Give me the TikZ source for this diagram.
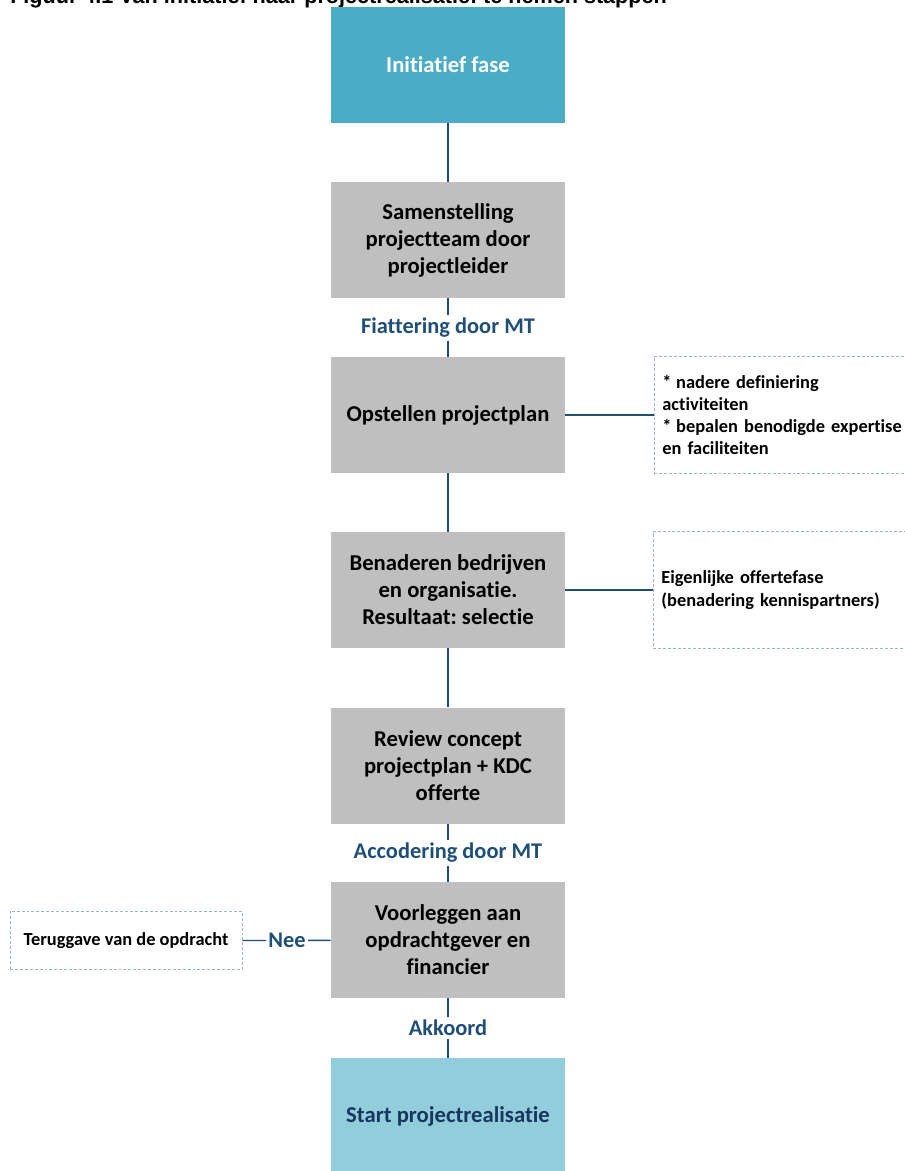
\documentclass[tikz,border=0pt]{standalone}
\usepackage{fontspec}
\setmainfont[Ligatures=NoCommon]{Carlito}
\newfontfamily\arialfont{Liberation Sans}
\usetikzlibrary{positioning}
\frenchspacing
\definecolor{teal1}{HTML}{4BACC6}
\definecolor{teal2}{HTML}{92CDDC}
\definecolor{boxgray}{HTML}{BFBFBF}
\definecolor{navy}{HTML}{1F4E79}
\definecolor{darknavy}{HTML}{17375E}
\definecolor{dashblue}{HTML}{9DB3C8}
\tikzset{
  stepbox/.style={fill=boxgray, draw=none, minimum width=175.5pt, minimum height=87pt,
    align=center, font=\bfseries\fontsize{17}{20.25}\selectfont, text=black},
  phasebox/.style={stepbox, fill=teal1, text=white},
  endbox/.style={stepbox, fill=teal2, text=darknavy},
  condlabel/.style={font=\bfseries\fontsize{16.8}{20.25}\selectfont, text=navy, inner xsep=1.5pt, inner ysep=2pt},
  notebox/.style={draw=dashblue, dash pattern=on 2.2pt off 1.5pt, line width=0.6pt, align=left,
    font=\bfseries\fontsize{13.8}{16.7}\selectfont, text=black, inner xsep=6pt},
  conn/.style={draw=navy, line width=1.1pt}
}
\begin{document}
\begin{tikzpicture}[x=0.75pt, y=-0.75pt]
\useasboundingbox (0,0) rectangle (904,1171);
% title (cut off at top in reference)
\node[anchor=base west, inner sep=0, font=\arialfont\bfseries\fontsize{16.2}{18}\selectfont] (title) at (10,3) {Figuur 4.1 Van initiatief naar projectrealisatie: te nemen stappen};
% main steps
\node[phasebox] (b1) at (448,65) {Initiatief fase};
\node[stepbox] (b2) at (448,240) {Samenstelling\\projectteam door\\projectleider};
\node[stepbox] (b3) at (448,415) {Opstellen projectplan};
\node[stepbox] (b4) at (448,590) {Benaderen bedrijven\\en organisatie.\\Resultaat: selectie};
\node[stepbox] (b5) at (448,765.5) {Review concept\\projectplan + KDC\\offerte};
\node[stepbox] (b6) at (448,940) {Voorleggen aan\\opdrachtgever en\\financier};
\node[endbox] (b7) at (448,1116) {Start projectrealisatie};
% condition labels
\node[condlabel] (l1) at (448,328) {Fiattering door MT};
\node[condlabel] (l2) at (448,853) {Accodering door MT};
\node[condlabel] (l3) at (448,1028) {Akkoord};
\node[condlabel] (nee) at (287,940.5) {Nee};
% side notes
\node[notebox, anchor=west, minimum height=88pt, text width=230pt] (n1) at (654,415)
  {*\kern-0.08em{} nadere definiering\\activiteiten\\{*}\kern-0.08em{} bepalen benodigde expertise\\en faciliteiten};
\node[notebox, anchor=west, minimum height=87.5pt, text width=230pt] (n2) at (653,590)
  {Eigenlijke offertefase\\(benadering kennispartners)};
\node[notebox, align=center, minimum width=174pt, minimum height=44pt] (n3) at (126,940.5)
  {Teruggave van de opdracht};
% connectors
\draw[conn] (b1) -- (b2);
\draw[conn] (b2) -- (l1) -- (b3);
\draw[conn] (b3) -- (b4);
\draw[conn] (b4) -- (b5);
\draw[conn] (b5) -- (l2) -- (b6);
\draw[conn] (b6) -- (l3) -- (b7);
\draw[conn] (b3) -- (n1);
\draw[conn] (b4) -- (n2);
\draw[conn] (b6) -- (nee) -- (n3);
\end{tikzpicture}
\end{document}
